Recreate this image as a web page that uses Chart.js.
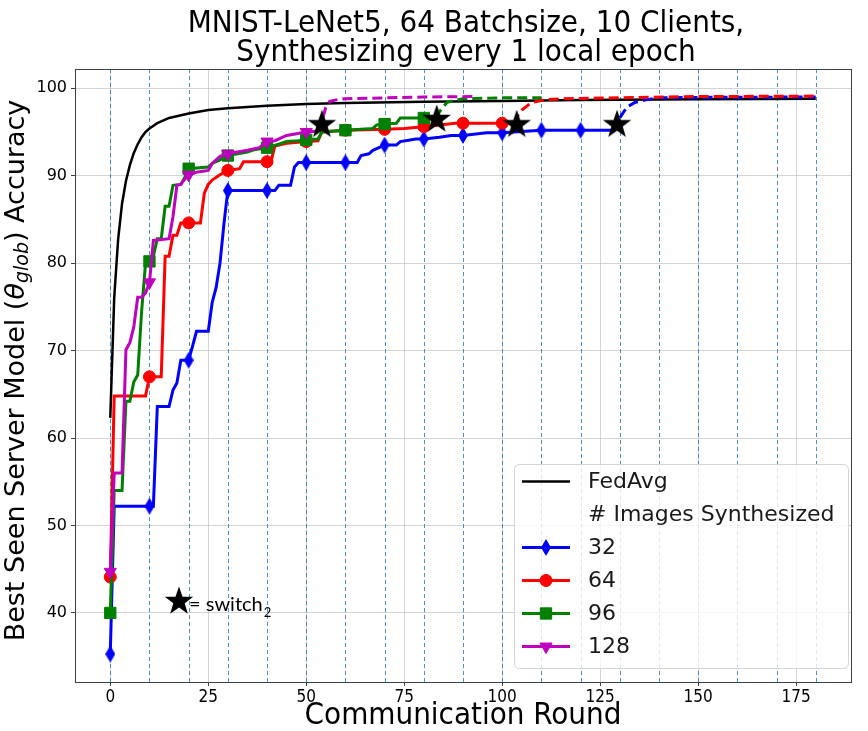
<!DOCTYPE html>
<html lang="en">
<head>
  <meta charset="UTF-8" />
  <title>MNIST-LeNet5 - best seen server accuracy</title>
  <script src="https://cdn.jsdelivr.net/npm/chart.js"></script>
  <style>
    html, body { margin: 0; padding: 0; background: #fff; }
    #wrap { width: 868px; height: 731px; }
  </style>
</head>
<body>
  <div id="wrap"><canvas id="accChart"></canvas></div>
  <script>
    // values (round -> best seen accuracy)
    const fedRounds = [0,1,2,3,4,5,6,7,8,9,10,12,15,20,25,30,40,50,60,80,100,120,150,180];
    const fedAcc = [62.3,76.0,82.7,86.8,89.4,91.2,92.6,93.6,94.4,95.0,95.4,96.0,96.6,97.1,97.5,97.7,98.0,98.2,98.3,98.45,98.55,98.65,98.75,98.8];

    const blueRounds = [0,1,10,11,12,15,16,17,18,20,21,22,25,26,27,28,29,30,40,42,43,46,47,48,50,60,63,64,66,67,69,70,73,74,78,80,84,87,90,96,100,110,120,128,129,130,131,132,134,137,140,150,180];
    const blueAcc = [35.3,52.2,52.2,52.2,63.6,63.6,65.5,66.3,68.9,68.9,70.5,72.2,72.2,75.5,77.2,80.0,84.5,88.3,88.3,88.3,88.9,88.9,91.0,91.5,91.5,91.5,91.5,92.3,92.5,92.9,93.3,93.5,93.5,93.9,94.2,94.2,94.4,94.6,94.6,94.9,94.9,95.2,95.2,95.2,95.7,96.6,97.3,97.9,98.4,98.7,98.9,98.95,99.0];

    const redRounds = [0,1,9,10,13,14,15,16,17,18,20,23,24,25,26,28,30,33,34,40,41,42,45,50,53,54,60,70,75,80,88,90,100,103,104,105,107,108,110,112,115,130,150,180];
    const redAcc = [44.1,64.8,64.8,67.0,67.0,80.8,80.8,83.2,83.2,84.6,84.6,84.6,88.0,89.0,89.5,90.1,90.6,90.8,91.6,91.6,91.6,93.4,93.7,93.9,94.0,95.0,95.2,95.3,95.4,95.6,96.0,96.0,96.0,96.0,96.9,97.5,98.2,98.4,98.6,98.7,98.8,98.9,99.05,99.1];

    const greenRounds = [0,1,3,4,5,6,7,8,9,10,11,12,13,14,15,16,18,19,20,25,26,27,28,29,30,35,37,40,43,45,48,50,53,54,60,67,68,70,73,74,80,83,84,85,86,88,90,100,110];
    const greenAcc = [40.0,54.0,54.0,64.2,64.2,66.4,67.2,74.5,80.0,80.2,80.8,82.8,82.8,86.5,86.5,88.9,89.0,89.8,90.8,91.0,91.4,91.6,91.8,92.1,92.3,92.7,93.0,93.2,93.6,93.9,94.0,94.1,94.2,95.0,95.2,95.4,95.8,95.9,96.0,96.6,96.6,96.6,97.3,97.9,98.4,98.6,98.8,98.9,98.9];

    const magentaRounds = [0,1,3,4,5,6,7,8,9,10,11,15,16,17,18,19,20,22,25,26,28,30,35,38,40,42,45,50,53,54,55,56,58,60,70,80,93];
    const magentaAcc = [44.7,56.0,56.0,70.1,70.9,72.7,76.1,76.1,76.6,77.8,82.6,82.8,85.3,88.9,89.0,89.6,90.1,90.4,90.6,91.4,92.2,92.5,92.9,93.2,93.9,94.0,94.6,95.0,95.1,96.3,97.8,98.5,98.7,98.8,98.9,99.0,99.05];

    // round where each run switches (solid -> dashed), and the star markers
    const switchRounds = [128, 103, 83, 53];
    const starRounds = [129.3, 103.7, 83.3, 54.0];
    const starAcc = [96.0, 96.0, 96.6, 96.0];

    const xTicks = [0, 25, 50, 75, 100, 125, 150, 175];
    const yTicks = [40, 50, 60, 70, 80, 90, 100];
    const vlineRounds = [0,10,20,30,40,50,60,70,80,90,100,110,120,130,140,150,160,170,180];
    const legendLabels = ['FedAvg', '# Images Synthesized', '32', '64', '96', '128'];

    const BLUE = '#0000ff', RED = '#ff0000', GREEN = '#008000', MAGENTA = '#bf00bf';
    const CONDENSED = '"DejaVu Sans Condensed", "Liberation Sans Narrow", "DejaVu Sans", sans-serif';

    function shapeCanvas(w, h, color, draw) {
      const c = document.createElement('canvas');
      c.width = w; c.height = h;
      const g = c.getContext('2d');
      g.fillStyle = color;
      draw(g, w, h);
      return c;
    }
    const thinDiamond = shapeCanvas(10, 17, BLUE, (g, w, h) => {
      g.beginPath(); g.moveTo(w / 2, 0); g.lineTo(w, h / 2); g.lineTo(w / 2, h); g.lineTo(0, h / 2);
      g.closePath(); g.fill();
    });
    const starImg = shapeCanvas(30, 30, '#000', (g, w, h) => {
      g.beginPath();
      for (let i = 0; i < 10; i++) {
        const r = i % 2 === 0 ? 15 : 6;
        const a = -Math.PI / 2 + i * Math.PI / 5;
        const px = w / 2 + r * Math.cos(a), py = h / 2 + 1.5 + r * Math.sin(a);
        i === 0 ? g.moveTo(px, py) : g.lineTo(px, py);
      }
      g.closePath(); g.fill();
    });

    const pts = (r, a) => r.map((x, i) => ({ x: x, y: a[i] }));
    const markEvery = (sw, rad) => c => (c.raw && c.raw.x % 10 === 0 && c.raw.x <= sw) ? rad : 0;
    const dashAfter = sw => ({ borderDash: c => c.p0.parsed.x >= sw ? [10, 5] : undefined });

    function series(label, r, a, color, sw, style, rad, rot, order) {
      return {
        label: label, data: pts(r, a), borderColor: color, backgroundColor: color,
        borderWidth: 3, tension: 0, order: order,
        pointStyle: style, pointRadius: markEvery(sw, rad), pointRotation: rot || 0,
        pointBackgroundColor: color, pointBorderColor: color, pointBorderWidth: 1,
        segment: dashAfter(sw)
      };
    }

    const datasets = [
      { label: 'switch', data: pts(starRounds, starAcc), showLine: false, pointStyle: starImg,
        pointRadius: 10, order: 0 },
      series('128', magentaRounds, magentaAcc, MAGENTA, switchRounds[3], 'triangle', 7, 180, 1),
      series('96', greenRounds, greenAcc, GREEN, switchRounds[2], 'rect', 8, 0, 2),
      series('64', redRounds, redAcc, RED, switchRounds[1], 'circle', 6, 0, 3),
      series('32', blueRounds, blueAcc, BLUE, switchRounds[0], thinDiamond, 8, 0, 4),
      { label: 'FedAvg', data: pts(fedRounds, fedAcc), borderColor: '#000', borderWidth: 2.5,
        pointRadius: 0, tension: 0, order: 5 }
    ];

    const decor = {
      id: 'decor',
      beforeDatasetsDraw(chart) {
        const { ctx, chartArea: a, scales } = chart;
        ctx.save();
        ctx.strokeStyle = 'rgba(31,119,180,0.8)';
        ctx.lineWidth = 1;
        ctx.setLineDash([4, 3]);
        vlineRounds.forEach(v => {
          const x = Math.round(scales.x.getPixelForValue(v)) + 0.5;
          ctx.beginPath(); ctx.moveTo(x, a.top); ctx.lineTo(x, a.bottom); ctx.stroke();
        });
        ctx.restore();
      },
      afterDatasetsDraw(chart) {
        const { ctx, chartArea: a } = chart;
        const H = Chart.helpers;
        ctx.save();
        // frame
        ctx.strokeStyle = '#404040'; ctx.lineWidth = 1;
        ctx.strokeRect(a.left + 0.5, a.top + 0.5, a.right - a.left, a.bottom - a.top);

        // title
        const cx = (a.left + a.right) / 2 + 3;
        ctx.fillStyle = '#000';
        ctx.font = '31px ' + CONDENSED;
        ctx.textAlign = 'center'; ctx.textBaseline = 'middle';
        ctx.fillText('MNIST-LeNet5, 64 Batchsize, 10 Clients,', cx, 24);
        ctx.fillText('Synthesizing every 1 local epoch', cx, 53);

        // y title with theta_glob
        const parts = [
          ['Best Seen Server Model (', '27px "DejaVu Sans"', 0],
          ['\u03b8', 'italic 27px "DejaVu Sans"', 0],
          ['glob', 'italic 19px "DejaVu Sans"', 6],
          [') Accuracy', '27px "DejaVu Sans"', 0]
        ];
        let total = 0;
        parts.forEach(p => { ctx.font = p[1]; total += ctx.measureText(p[0]).width; });
        ctx.translate(17, (a.top + a.bottom) / 2 - 5);
        ctx.rotate(-Math.PI / 2);
        ctx.textAlign = 'left';
        let tx = -total / 2;
        parts.forEach(p => { ctx.font = p[1]; ctx.fillText(p[0], tx, p[2]); tx += ctx.measureText(p[0]).width; });
        ctx.setTransform(1, 0, 0, 1, 0, 0);
        ctx.restore();

        // star note
        ctx.save();
        ctx.drawImage(starImg, 164, 585);
        ctx.fillStyle = '#000'; ctx.textBaseline = 'middle'; ctx.textAlign = 'left';
        ctx.font = '20px Lato, "Open Sans", sans-serif';
        ctx.fillText('= switch', 189, 605);
        const sw = ctx.measureText('= switch').width;
        ctx.font = '13px Lato, "Open Sans", sans-serif';
        ctx.fillText('2', 189 + sw + 1, 613);
        ctx.restore();

        // legend
        ctx.save();
        const bx = 514.5, by = 464.5, bw = 334, bh = 204, rowH = 33;
        ctx.beginPath();
        ctx.roundRect(bx, by, bw, bh, 5);
        ctx.fillStyle = 'rgba(255,255,255,0.82)'; ctx.fill();
        ctx.strokeStyle = '#d4d4d4'; ctx.lineWidth = 1; ctx.stroke();
        const styles = [
          { color: '#000', w: 2.5 },
          null,
          { color: BLUE, img: thinDiamond },
          { color: RED, pointStyle: 'circle', radius: 6 },
          { color: GREEN, pointStyle: 'rect', radius: 8 },
          { color: MAGENTA, pointStyle: 'triangle', radius: 7, rotation: 180 }
        ];
        ctx.textBaseline = 'middle'; ctx.textAlign = 'left';
        ctx.font = '22px "DejaVu Sans"';
        legendLabels.forEach((lab, i) => {
          const y = by + 17 + i * rowH;
          const s = styles[i];
          if (s) {
            ctx.strokeStyle = s.color; ctx.lineWidth = s.w || 3;
            ctx.beginPath(); ctx.moveTo(522, y); ctx.lineTo(570, y); ctx.stroke();
            ctx.fillStyle = s.color;
            if (s.img) ctx.drawImage(s.img, 546 - s.img.width / 2, y - s.img.height / 2);
            else if (s.pointStyle) {
              ctx.lineWidth = 1;
              H.drawPoint(ctx, { pointStyle: s.pointStyle, radius: s.radius, rotation: s.rotation || 0, borderWidth: 1 }, 546, y);
            }
          }
          ctx.fillStyle = '#1a1a1a';
          ctx.fillText(lab, 588, y + 1);
        });
        ctx.restore();
      }
    };

    new Chart(document.getElementById('accChart'), {
      type: 'line',
      data: { datasets: datasets },
      options: {
        responsive: true,
        maintainAspectRatio: false,
        animation: false,
        events: [],
        layout: { padding: { top: 69, right: 17, left: 0, bottom: 0 } },
        plugins: { legend: { display: false }, tooltip: { enabled: false } },
        scales: {
          x: {
            type: 'linear', min: -9, max: 189,
            afterBuildTicks: s => { s.ticks = xTicks.map(v => ({ value: v })); },
            afterFit: s => { s.height = 49; },
            grid: { color: 'rgba(176,176,176,0.55)', tickColor: '#404040', tickLength: 4 },
            border: { display: false },
            ticks: { color: '#000', padding: 1, maxRotation: 0, font: { size: 17, family: CONDENSED } },
            title: { display: true, text: 'Communication Round', color: '#000',
              font: { size: 31, family: CONDENSED, lineHeight: 1.0 }, padding: { top: 0, bottom: 0 } }
          },
          y: {
            min: 32.1, max: 102.2,
            afterBuildTicks: s => { s.ticks = yTicks.map(v => ({ value: v })); },
            afterFit: s => { s.width = 75; },
            grid: { color: 'rgba(176,176,176,0.55)', tickColor: '#404040', tickLength: 4 },
            border: { display: false },
            ticks: { color: '#000', padding: 4, font: { size: 16, family: '"DejaVu Sans"' } }
          }
        }
      },
      plugins: [decor]
    });
  </script>
</body>
</html>
